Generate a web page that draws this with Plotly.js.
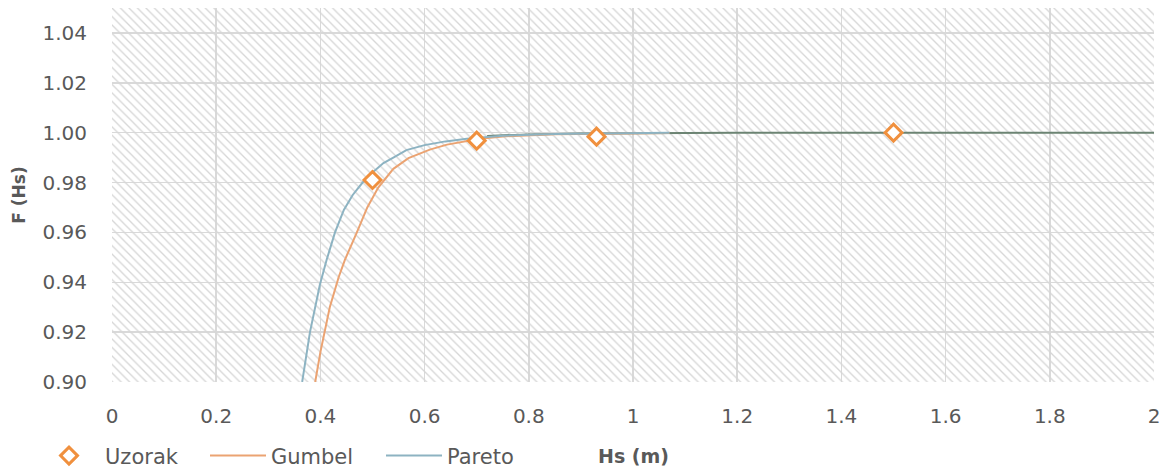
<!DOCTYPE html>
<html>
<head>
<meta charset="utf-8">
<script src="https://cdn.plot.ly/plotly-3.0.1.min.js"></script>
<style>html,body{margin:0;padding:0;background:#fff;}#chart{width:1169px;height:472px;}</style>
</head>
<body>
<div id="chart"></div>
<script>
// Observed sample (Uzorak)
const uzorakX = [0.5, 0.7, 0.93, 1.5];
const uzorakY = [0.981, 0.9968, 0.9984, 1.0];

// Gumbel fit curve
const gumbelX = [0.39, 0.40, 0.418, 0.435, 0.447, 0.46, 0.47, 0.49, 0.511, 0.54, 0.569, 0.61, 0.643, 0.706, 0.75, 0.85, 0.95, 1.07];
const gumbelY = [0.90, 0.912, 0.930, 0.942, 0.949, 0.955, 0.960, 0.970, 0.978, 0.9855, 0.9898, 0.9932, 0.9952, 0.9976, 0.9985, 0.9994, 0.9997, 0.9999];

// Pareto fit curve
const paretoX = [0.365, 0.38, 0.399, 0.412, 0.428, 0.445, 0.462, 0.481, 0.50, 0.521, 0.54, 0.565, 0.60, 0.64, 0.681, 0.75, 0.85, 0.95, 1.07];
const paretoY = [0.90, 0.92, 0.939, 0.949, 0.960, 0.969, 0.975, 0.980, 0.984, 0.9878, 0.990, 0.993, 0.995, 0.9965, 0.9976, 0.9988, 0.9995, 0.9998, 1.0];

// Unlabelled dark series along F = 1
const upperX = [0.72, 0.8, 0.9, 1.0, 1.2, 2.0];
const upperY = [0.9987, 0.9993, 0.9997, 0.9999, 1.0, 1.0];

// Axis ranges (also used for the hatched plot background)
const xRange = [0, 2];
const yRange = [0.9, 1.05];

const FONT = 'DejaVu Sans, Liberation Sans, sans-serif';
const GREY = '#595959';

const traces = [
  {
    x: [xRange[0], xRange[1], xRange[1], xRange[0], xRange[0]],
    y: [yRange[0], yRange[0], yRange[1], yRange[1], yRange[0]],
    mode: 'lines', line: {width: 0}, fill: 'toself',
    fillcolor: 'rgba(0,0,0,0)',
    fillpattern: {shape: '\\', fgcolor: '#d6d6d6', bgcolor: 'rgba(0,0,0,0)', size: 6, solidity: 0.22},
    hoverinfo: 'skip', showlegend: false
  },
  {
    x: upperX, y: upperY, mode: 'lines', name: '',
    line: {color: '#6c8473', width: 2}, showlegend: false
  },
  {
    x: gumbelX, y: gumbelY, mode: 'lines', name: 'Gumbel', legend: 'legend2',
    line: {color: '#EBA372', width: 2}
  },
  {
    x: paretoX, y: paretoY, mode: 'lines', name: 'Pareto', legend: 'legend3',
    line: {color: '#8DB3C2', width: 2}
  },
  {
    x: uzorakX, y: uzorakY, mode: 'markers', name: 'Uzorak', legend: 'legend',
    marker: {symbol: 'diamond', size: 13, color: '#ffffff', line: {color: '#F0903E', width: 3}}
  }
];

function leg(xpx, w) {
  return {
    orientation: 'h', xref: 'container', yref: 'container',
    x: xpx / 1169, y: 0.034, xanchor: 'left', yanchor: 'middle',
    font: {family: FONT, size: 21, color: GREY},
    itemwidth: w, bgcolor: 'rgba(0,0,0,0)', borderwidth: 0
  };
}

const layout = {
  width: 1169, height: 472,
  paper_bgcolor: '#ffffff', plot_bgcolor: '#ffffff',
  margin: {l: 112, r: 15, t: 8, b: 90},
  font: {family: FONT, size: 20, color: GREY},
  showlegend: true,
  legend: leg(33, 62),
  legend2: leg(205, 56),
  legend3: leg(381, 56),
  xaxis: {
    range: xRange, dtick: 0.2, tick0: 0,
    showgrid: true, gridcolor: '#d9d9d9', gridwidth: 1.5,
    zeroline: false, showline: false, ticks: '',
    ticklabelstandoff: 20, automargin: false,
    tickfont: {family: FONT, size: 20, color: GREY}
  },
  yaxis: {
    range: yRange, dtick: 0.02, tick0: 0.9, tickformat: '.2f',
    showgrid: true, gridcolor: '#d9d9d9', gridwidth: 1.5,
    zeroline: false, showline: false, ticks: '',
    ticklabelstandoff: 24, automargin: false,
    tickfont: {family: FONT, size: 20, color: GREY},
    title: {text: 'F (Hs)', standoff: 12, font: {family: FONT, size: 17, color: GREY, weight: 'bold'}}
  },
  annotations: [{
    text: 'Hs (m)', xref: 'x domain', yref: 'paper', x: 0.5, y: 0,
    xanchor: 'center', yanchor: 'middle', yshift: -74, showarrow: false,
    font: {family: FONT, size: 19, color: GREY, weight: 'bold'}
  }]
};

Plotly.newPlot('chart', traces, layout, {displayModeBar: false, staticPlot: true});
</script>
</body>
</html>
